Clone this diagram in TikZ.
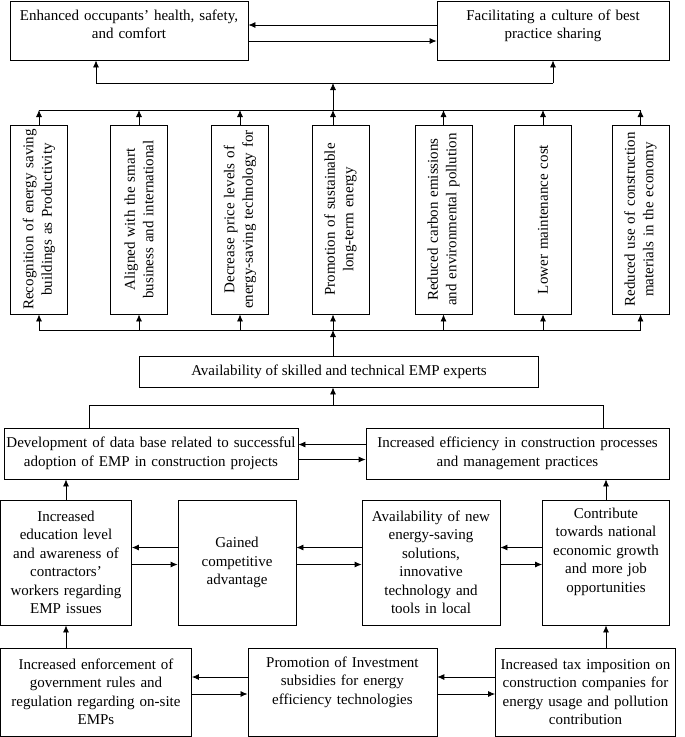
\documentclass[tikz,border=0pt]{standalone}
\usepackage{fontspec}
\setmainfont{Liberation Serif}
\usetikzlibrary{arrows.meta}

\tikzset{
    box/.style={draw, rectangle, inner sep=3pt, align=center, font=\fontsize{15}{18.5}\selectfont},
    vbox/.style={box, rotate=90, minimum width=189pt, minimum height=57pt, text width=183pt},
    arr/.style={-{Latex[length=7pt, width=6pt]}},
}

\begin{document}
\begin{tikzpicture}[x=1pt, y=-1pt, line width=0.8pt]
    \useasboundingbox (0,0) rectangle (685,737);

    % Top nodes
    \node[box, text width=232pt, text height=16pt, text depth=37pt] (enh) at (129,30.5) {Enhanced occupants' health, safety,\\and comfort};
    \node[box, text width=226pt, text height=16pt, text depth=37pt] (fac) at (553,30.5) {Facilitating a culture of best\\practice sharing};

    % Benefit nodes (rotated, east = top of page)
    \node[vbox] (v1) at (39,219.5) {Recognition of energy saving\\buildings as Productivity};
    \node[vbox] (v2) at (139,219.5) {Aligned with the smart\\business and international};
    \node[vbox] (v3) at (240,219.5) {Decrease price levels of\\energy-saving technology for};
    \node[vbox] (v4) at (340.5,219.5) {Promotion of sustainable\\long-term energy};
    \node[vbox] (v5) at (443.5,219.5) {Reduced carbon emissions\\and environmental pollution};
    \node[vbox] (v6) at (543,219.5) {Lower maintenance cost};
    \node[vbox] (v7) at (640.5,219.5) {Reduced use of construction\\materials in the economy};

    % Middle nodes
    \node[box, minimum width=399pt, minimum height=31pt] (avs) at (339,371.5) {Availability of skilled and technical EMP experts};
    \node[box, inner xsep=0pt, text width=294pt, minimum height=51pt] (dev) at (151,453.5) {Development of data base related to successful\\adoption of EMP in construction projects};
    \node[box, text width=297pt, minimum height=51pt] (eff) at (517.5,453.5) {Increased efficiency in construction processes\\and management practices};

    % Lower nodes
    \node[box, text width=125pt, minimum height=125pt] (edu) at (66,562.5) {Increased\\education level\\and awareness of\\contractors'\\workers regarding\\EMP issues};
    \node[box, text width=112pt, minimum height=125pt] (gain) at (237,562.5) {Gained\\competitive\\advantage};
    \node[box, text width=132pt, minimum height=125pt] (anew) at (431,562.5) {Availability of new\\energy-saving\\solutions,\\innovative\\technology and\\tools in local};
    \node[box, text width=121pt, text height=15pt, text depth=104pt] (contr) at (606,562.5) {Contribute\\towards national\\economic growth\\and more job\\opportunities};

    % Bottom nodes
    \node[box, text width=185pt, minimum height=88pt] (enf) at (96,692) {Increased enforcement of\\government rules and\\regulation regarding on-site\\EMPs};
    \node[box, text width=183pt, text height=16pt, text depth=66pt] (promo) at (342.4,692) {Promotion of Investment\\subsidies for energy\\efficiency technologies};
    \node[box, text width=174pt, minimum height=88pt] (tax) at (585.5,692) {Increased tax imposition on\\construction companies for\\energy usage and pollution\\contribution};

    % Junctions
    \coordinate (ja) at (96,83);
    \coordinate (jb) at (553,83);
    \coordinate (jt) at (333,110);
    \coordinate (jm) at (333,330);
    \coordinate (jl) at (333,405);
    \coordinate (jd) at (89,405);
    \coordinate (je) at (603,405);

    % Top edges
    \draw[arr] ([yshift=5.5pt]fac.west) -- ([yshift=5.5pt]enh.east);
    \draw[arr] ([yshift=-10.5pt]enh.east) -- ([yshift=-10.5pt]fac.west);
    \draw (ja) -- (jb);
    \draw[arr] (ja) -- (enh.south -| ja);
    \draw[arr] (jb) -- (fac.south -| jb);
    \draw[arr] (jt) -- (jt |- ja);

    % Edges above the benefits
    \draw (v1.east |- jt) -- (v7.east |- jt);
    \draw[arr] (v1.east) -- (v1.east |- jt);
    \draw[arr] (v2.east) -- (v2.east |- jt);
    \draw[arr] (v3.east) -- (v3.east |- jt);
    \draw[arr] (v4.east -| jt) -- (jt);
    \draw[arr] (v5.east) -- (v5.east |- jt);
    \draw[arr] (v6.east) -- (v6.east |- jt);
    \draw[arr] (v7.east) -- (v7.east |- jt);

    % Edges below the benefits
    \draw (v1.west |- jm) -- (v7.west |- jm);
    \draw[arr] (v1.west |- jm) -- (v1.west);
    \draw[arr] (v2.west |- jm) -- (v2.west);
    \draw[arr] (v3.west |- jm) -- (v3.west);
    \draw[arr] (jm) -- (v4.west -| jm);
    \draw[arr] (v5.west |- jm) -- (v5.west);
    \draw[arr] (v6.west |- jm) -- (v6.west);
    \draw[arr] (v7.west |- jm) -- (v7.west);
    \draw[arr] (avs.north -| jm) -- (jm);

    % Edges to the experts node
    \draw[arr] (jl) -- (avs.south -| jl);
    \draw (dev.north -| jd) -- (jd) -- (je) -- (eff.north -| je);
    \draw[arr] ([yshift=9pt]eff.west) -- ([yshift=9pt]dev.east);
    \draw[arr] ([yshift=-6pt]dev.east) -- ([yshift=-6pt]eff.west);
    \draw[arr] (edu.north) -- (dev.south -| edu.north);
    \draw[arr] (contr.north) -- (eff.south -| contr.north);

    % Lower edges
    \draw[arr] ([yshift=15pt]gain.west) -- ([yshift=15pt]edu.east);
    \draw[arr] ([yshift=-2pt]edu.east) -- ([yshift=-2pt]gain.west);
    \draw[arr] ([yshift=15pt]anew.west) -- ([yshift=15pt]gain.east);
    \draw[arr] ([yshift=-2pt]gain.east) -- ([yshift=-2pt]anew.west);
    \draw[arr] ([yshift=15pt]contr.west) -- ([yshift=15pt]anew.east);
    \draw[arr] ([yshift=-2pt]anew.east) -- ([yshift=-2pt]contr.west);

    % Bottom edges
    \draw[arr] ([yshift=15pt]promo.west) -- ([yshift=15pt]enf.east);
    \draw[arr] ([yshift=-2pt]enf.east) -- ([yshift=-2pt]promo.west);
    \draw[arr] ([yshift=15pt]tax.west) -- ([yshift=15pt]promo.east);
    \draw[arr] ([yshift=-2pt]promo.east) -- ([yshift=-2pt]tax.west);
    \draw[arr] (enf.north -| edu.south) -- (edu.south);
    \draw[arr] (tax.north -| contr.south) -- (contr.south);
\end{tikzpicture}
\end{document}
